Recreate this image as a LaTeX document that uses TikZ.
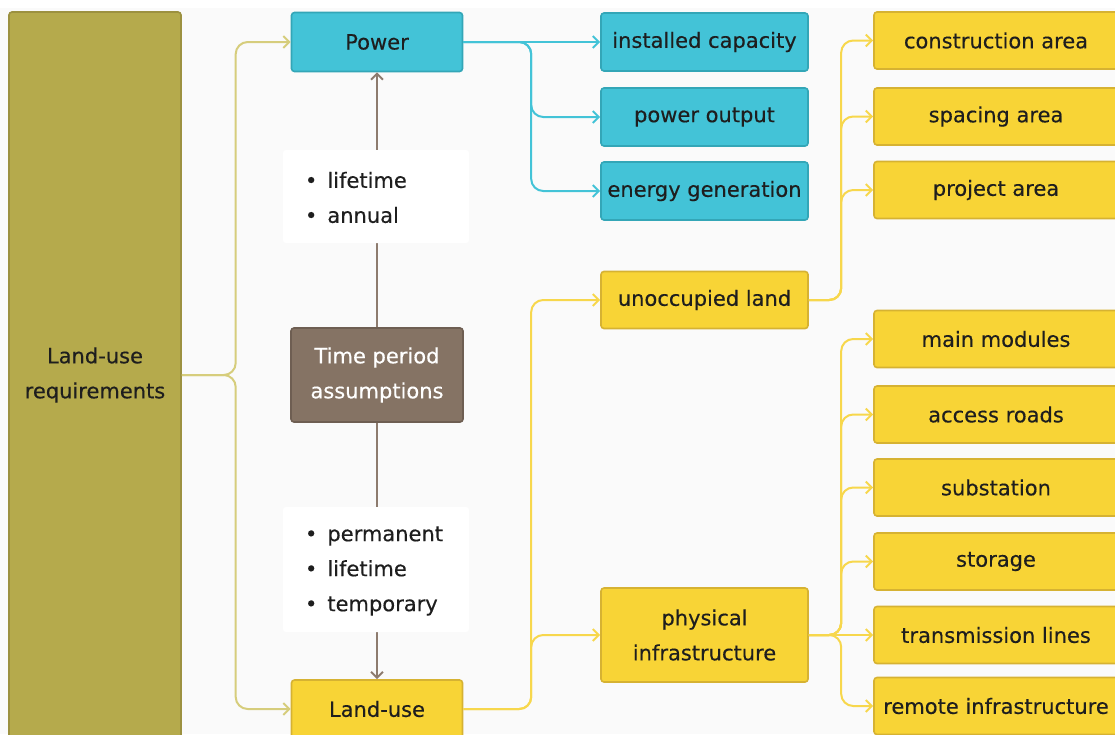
\documentclass[tikz,border=0pt]{standalone}
\usepackage{fontspec}
\setmainfont{DejaVu Sans}[FakeBold=0.35]
\usetikzlibrary{arrows.meta}
\definecolor{bgc}{HTML}{FAFAFA}
\definecolor{cyanf}{HTML}{43C3D7}
\definecolor{cyand}{HTML}{33A6B7}
\definecolor{yelf}{HTML}{F8D436}
\definecolor{yeld}{HTML}{D6B232}
\definecolor{olivef}{HTML}{B5AA4C}
\definecolor{olived}{HTML}{9C9140}
\definecolor{brownf}{HTML}{857364}
\definecolor{brownd}{HTML}{6E5E52}
\definecolor{khaki}{HTML}{D6CD7C}
\definecolor{yell}{HTML}{F7D74C}
\definecolor{brownl}{HTML}{8D7B6E}
\definecolor{txt}{HTML}{1E1E1E}
\tikzset{
  base/.style={draw, line width=1.6pt, rounded corners=3pt, inner sep=0pt, align=center,
    font=\fontsize{21pt}{35pt}\selectfont, text=txt},
  cbox/.style={base, fill=cyanf, draw=cyand, minimum width=207pt, minimum height=58pt},
  ybox/.style={base, fill=yelf, draw=yeld, minimum width=207pt, minimum height=58pt},
  rbox/.style={base, fill=yelf, draw=yeld, minimum width=244pt, minimum height=57pt},
  obox/.style={base, fill=olivef, draw=olived},
  brbox/.style={base, fill=brownf, draw=brownd, text=white},
  notebox/.style={fill=white, rounded corners=3pt, inner sep=0pt, minimum width=186pt},
  notetext/.style={align=left, inner sep=0pt, font=\fontsize{21pt}{35pt}\selectfont, text=txt},
  tip/.style={-{Straight Barb[length=6pt,width=12pt]}},
  conn/.style={line width=2pt, rounded corners=12pt, tip},
  kline/.style={conn, draw=khaki},
  cline/.style={conn, draw=cyanf},
  yline/.style={conn, draw=yell},
  bline/.style={line width=2pt, draw=brownl, tip},
}
\begin{document}
\begin{tikzpicture}[x=1pt,y=-1pt]
\useasboundingbox (0,0) rectangle (1115,734);
\fill[white] (0,0) rectangle (1115,734);
\fill[bgc] (0,8) rectangle (1115,734);

% nodes
\node[obox, minimum width=172pt, minimum height=726pt] (LUR) at (95,375) {Land-use\\requirements};
\node[cbox, minimum width=171pt, minimum height=59pt] (P) at (377,42) {Power};
\node[brbox, minimum width=172pt, minimum height=94pt] (T) at (377,375) {Time period\\assumptions};
\node[ybox, minimum width=171pt, minimum height=58pt] (L) at (377,709) {Land-use};

\node[cbox] (IC) at (704.5,42) {installed capacity};
\node[cbox] (PO) at (704.5,117) {power output};
\node[cbox] (EG) at (704.5,191) {energy generation};

\node[ybox, minimum height=57pt] (UL) at (704.5,300) {unoccupied land};
\node[ybox, minimum height=94pt] (PI) at (704.5,635) {physical\\infrastructure};

\node[rbox] (CA) at (996,40.5) {construction area};
\node[rbox] (SA) at (996,116.5) {spacing area};
\node[rbox] (PA) at (996,190) {project area};
\node[rbox] (MM) at (996,339) {main modules};
\node[rbox] (AR) at (996,414.5) {access roads};
\node[rbox] (SU) at (996,487.5) {substation};
\node[rbox] (ST) at (996,561.5) {storage};
\node[rbox] (TL) at (996,635) {transmission lines};
\node[rbox] (RI) at (996,706) {remote infrastructure};

% brown connectors (behind notes)
\draw[bline] (T.north) -- (P.south);
\draw[bline] (T.south) -- (L.north);

% notes
\node[notebox, minimum height=93pt] (N1) at (376,196.5) {};
\node[notetext, anchor=west] (N1t) at ([xshift=22pt,yshift=-1pt]N1.west) {•\hspace{10pt}lifetime\\•\hspace{10pt}annual};
\node[notebox, minimum height=125pt] (N2) at (376,569.5) {};
\node[notetext, anchor=west] (N2t) at ([xshift=22pt,yshift=-1.5pt]N2.west) {•\hspace{10pt}permanent\\•\hspace{10pt}lifetime\\•\hspace{10pt}temporary};

% khaki connectors
\draw[kline] (LUR.east) -| ([xshift=-55pt]P.west) -- (P.west);
\draw[kline] (LUR.east) -| ([xshift=-55pt]L.west) -- (L.west);

% cyan connectors
\draw[cline] (P.east) -- (IC.west);
\draw[cline] (P.east) -| ([xshift=-69pt]PO.west) -- (PO.west);
\draw[cline] (P.east) -| ([xshift=-69pt]EG.west) -- (EG.west);

% yellow connectors
\draw[yline] (L.east) -| ([xshift=-69pt]UL.west) -- (UL.west);
\draw[yline] (L.east) -| ([xshift=-69pt]PI.west) -- (PI.west);

\draw[yline] (UL.east) -| ([xshift=-32pt]CA.west) -- (CA.west);
\draw[yline] (UL.east) -| ([xshift=-32pt]SA.west) -- (SA.west);
\draw[yline] (UL.east) -| ([xshift=-32pt]PA.west) -- (PA.west);

\draw[yline] (PI.east) -| ([xshift=-32pt]MM.west) -- (MM.west);
\draw[yline] (PI.east) -| ([xshift=-32pt]AR.west) -- (AR.west);
\draw[yline] (PI.east) -| ([xshift=-32pt]SU.west) -- (SU.west);
\draw[yline] (PI.east) -| ([xshift=-32pt]ST.west) -- (ST.west);
\draw[yline] (PI.east) -- (TL.west);
\draw[yline] (PI.east) -| ([xshift=-32pt]RI.west) -- (RI.west);
\end{tikzpicture}
\end{document}
